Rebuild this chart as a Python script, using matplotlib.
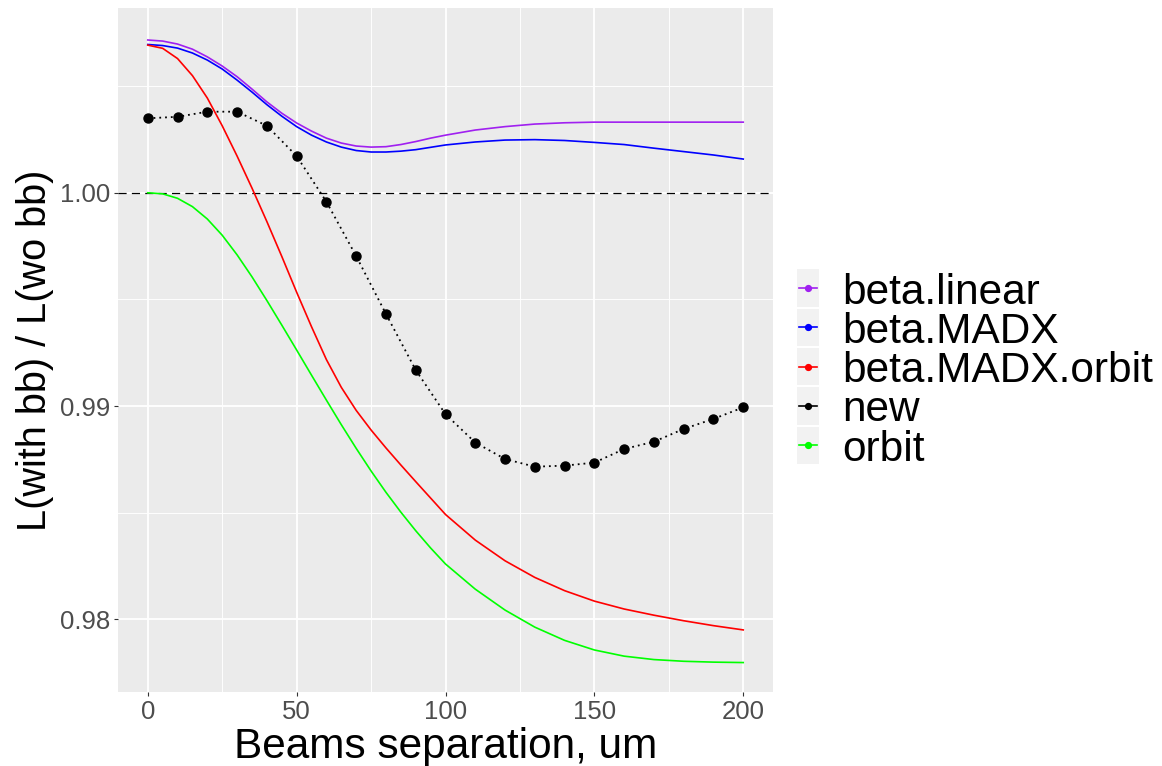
import matplotlib
matplotlib.use("Agg")
import matplotlib.pyplot as plt
from matplotlib.patches import Rectangle
from matplotlib.lines import Line2D

plt.rcParams['font.family'] = ['Liberation Sans', 'DejaVu Sans']

# ---------------- data ----------------
curve_x = [0, 5, 10, 15, 20, 25, 30, 35, 40, 45, 50, 55, 60, 65, 70, 75, 80, 85, 90, 95,
           100, 110, 120, 130, 140, 150, 160, 170, 180, 190, 200]

beta_linear = [1.00716, 1.00711, 1.00697, 1.00673, 1.00637, 1.00594, 1.00544, 1.00486,
               1.00426, 1.00373, 1.00327, 1.00289, 1.00256, 1.00233, 1.00219, 1.00214,
               1.00216, 1.00226, 1.00240, 1.00256, 1.00270, 1.00294, 1.00310, 1.00322,
               1.00328, 1.00331, 1.00331, 1.00331, 1.00331, 1.00331, 1.00331]

beta_madx = [1.00695, 1.00690, 1.00678, 1.00655, 1.00622, 1.00580, 1.00528, 1.00472,
             1.00413, 1.00359, 1.00310, 1.00270, 1.00238, 1.00214, 1.00198, 1.00191,
             1.00191, 1.00195, 1.00202, 1.00213, 1.00224, 1.00238, 1.00247, 1.00249,
             1.00245, 1.00236, 1.00226, 1.00209, 1.00193, 1.00177, 1.00158]

beta_madx_orbit = [1.00692, 1.00677, 1.00629, 1.00549, 1.00444, 1.00314, 1.00172, 1.00022,
                   0.99865, 0.99702, 0.99534, 0.99372, 0.99218, 0.99088, 0.98980, 0.98888,
                   0.98804, 0.98724, 0.98646, 0.98569, 0.98492, 0.98372, 0.98275, 0.98197,
                   0.98135, 0.98086, 0.98049, 0.98020, 0.97994, 0.97971, 0.97951]

orbit = [1.00000, 0.99995, 0.99974, 0.99935, 0.99877, 0.99801, 0.99709, 0.99606,
         0.99495, 0.99380, 0.99263, 0.99145, 0.99028, 0.98913, 0.98802, 0.98696,
         0.98596, 0.98503, 0.98416, 0.98335, 0.98260, 0.98142, 0.98044, 0.97964,
         0.97902, 0.97857, 0.97828, 0.97812, 0.97804, 0.97800, 0.97798]

new_x = [0, 10, 20, 30, 40, 50, 60, 70, 80, 90, 100, 110, 120, 130, 140, 150, 160, 170,
         180, 190, 200]
new_y = [1.00349, 1.00356, 1.00380, 1.00380, 1.00314, 1.00172, 0.99958, 0.99703, 0.99432,
         0.99169, 0.98962, 0.98829, 0.98752, 0.98716, 0.98721, 0.98735, 0.98799, 0.98833,
         0.98893, 0.98940, 0.98994]

series_names = ["beta.linear", "beta.MADX", "beta.MADX.orbit", "new", "orbit"]
series_colors = ["#A020F0", "#0000FF", "#FF0000", "#000000", "#00FF00"]

x_ticks = [0, 50, 100, 150, 200]
y_ticks = [0.98, 0.99, 1.00]
y_tick_labels = ["0.98", "0.99", "1.00"]
x_label = "Beams separation, um"
y_label = "L(with bb) / L(wo bb)"

# ---------------- figure ----------------
W, H = 1162, 766
fig = plt.figure(figsize=(W / 100, H / 100), dpi=100)
fig.patch.set_facecolor("white")
ax = fig.add_axes([118 / W, 1 - 692 / H, (773 - 118) / W, (692 - 8) / H])
ax.set_facecolor("#EBEBEB")
for s in ax.spines.values():
    s.set_visible(False)

ax.set_xticks(x_ticks)
ax.set_xticklabels([str(t) for t in x_ticks])
ax.set_yticks(y_ticks)
ax.set_yticklabels(y_tick_labels)
ax.set_xticks([25, 75, 125, 175], minor=True)
ax.set_yticks([0.975, 0.985, 0.995, 1.005], minor=True)
ax.set_xlim(-10, 210)
ax.set_ylim(0.97660, 1.00866)
ax.grid(which="major", color="white", linewidth=1.3)
ax.grid(which="minor", color="white", linewidth=0.65)
ax.set_axisbelow(True)
ax.tick_params(which="major", length=3.2, width=0.8, color="#333333",
               labelsize=18.5, labelcolor="#4D4D4D", pad=2.5)
ax.tick_params(which="minor", length=0)

ax.set_xlabel(x_label, fontsize=30.5, color="black", labelpad=2)
ax.set_ylabel(y_label, fontsize=28.5, color="black", labelpad=4)

# reference line
ax.axhline(1.0, color="black", linewidth=0.9, linestyle=(0, (6.5, 4.2)), zorder=2)

lw = 1.2
ax.plot(curve_x, beta_linear, color=series_colors[0], linewidth=lw, zorder=3)
ax.plot(curve_x, beta_madx, color=series_colors[1], linewidth=lw, zorder=3)
ax.plot(curve_x, beta_madx_orbit, color=series_colors[2], linewidth=lw, zorder=3)
ax.plot(curve_x, orbit, color=series_colors[4], linewidth=lw, zorder=3)
ax.plot(new_x, new_y, color="black", linewidth=1.3, linestyle=(0, (1, 2.2)), zorder=4)
ax.plot(new_x, new_y, color="black", linestyle="none", marker="o", markersize=6.5, zorder=5)

# ---------------- legend (ggplot style, manual) ----------------
key_x0, key_w = 797, 22
first_y, step = 288, 39.3
for i, (name, col) in enumerate(zip(series_names, series_colors)):
    yc = first_y + i * step
    fig.add_artist(Rectangle((key_x0 / W, 1 - (yc + step / 2 - 1) / H), key_w / W, (step - 2) / H,
                             transform=fig.transFigure, facecolor="#F2F2F2", edgecolor="none"))
    fig.add_artist(Line2D([(key_x0 + 2) / W, (key_x0 + key_w - 2) / W], [1 - yc / H, 1 - yc / H],
                          transform=fig.transFigure, color=col, linewidth=1.2))
    fig.add_artist(Line2D([(key_x0 + key_w / 2) / W], [1 - yc / H], transform=fig.transFigure,
                          color=col, marker="o", markersize=4.2, linestyle="none"))
    fig.text(842 / W, 1 - yc / H, name, fontsize=30.5, va="center_baseline", ha="left", color="black")

fig.savefig("out.png", dpi=100, facecolor="white")
